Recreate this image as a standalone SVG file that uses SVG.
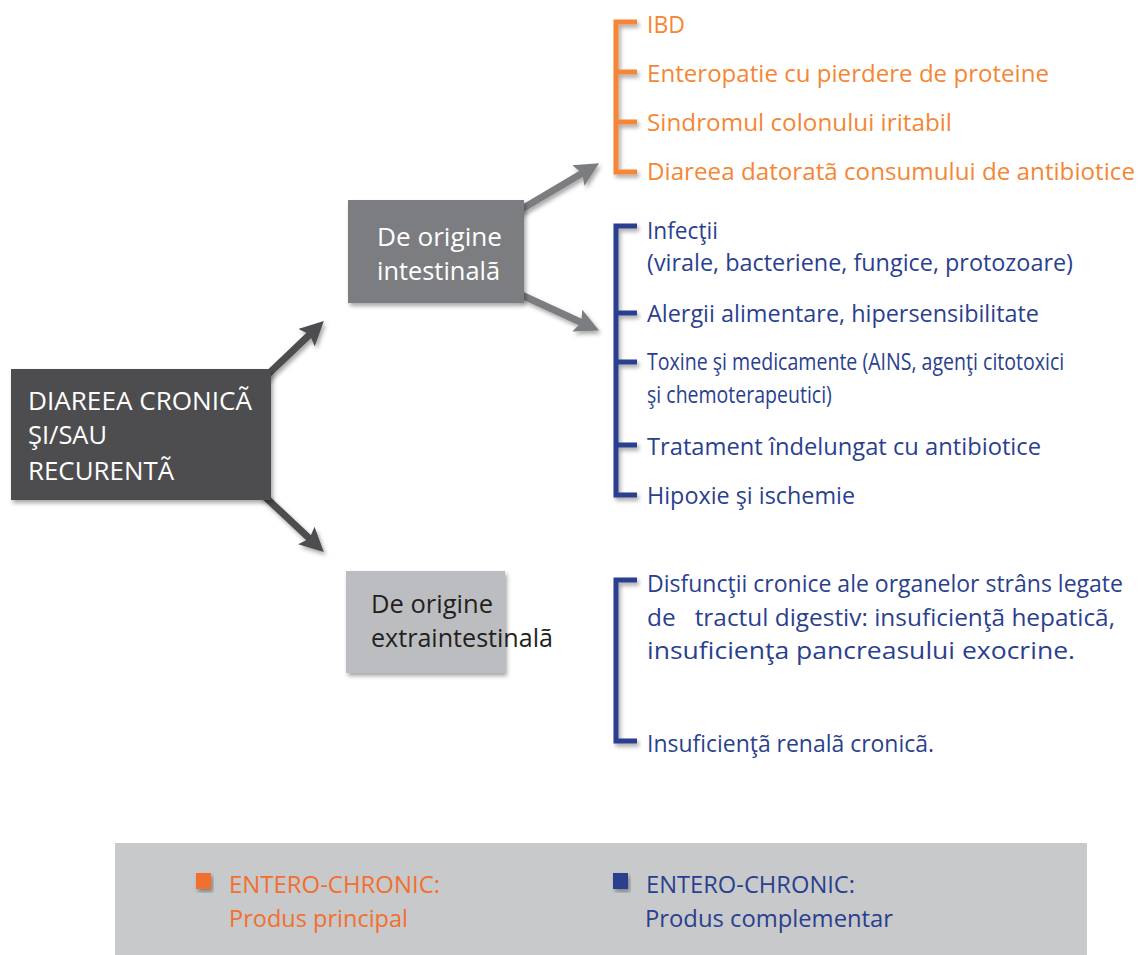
<svg xmlns="http://www.w3.org/2000/svg" width="1138" height="955" viewBox="0 0 1138 955">
<style>
text{font-family:"Open Sans","Noto Sans","Liberation Sans",sans-serif;}
.or{fill:#f58634;font-size:23.5px;}
.bl{fill:#2b3f8f;font-size:23.5px;}
.wh{fill:#ffffff;font-size:25px;}
.dk{fill:#231f20;font-size:25px;}
.lo{fill:#f26f2f;font-size:23px;}
.lb{fill:#2b3f8f;font-size:23px;}
.bro{fill:none;stroke:#f58634;stroke-width:5;}
.brb{fill:none;stroke:#2b3f8f;stroke-width:5;}
.a1{stroke:#4d4d4f;stroke-width:7;fill:none;}
.a2{stroke:#7c7d80;stroke-width:7;fill:none;}
</style>
<defs>
<filter id="sh" x="-10%" y="-10%" width="130%" height="130%">
<feDropShadow dx="2" dy="3" stdDeviation="2" flood-color="#000" flood-opacity="0.35"/>
</filter>
<marker id="h1" markerUnits="userSpaceOnUse" markerWidth="24" markerHeight="24" viewBox="0 0 22 22" refX="8" refY="11" orient="auto">
<path d="M0,0 L22,11 L0,22 L4,11 z" fill="#4d4d4f"/>
</marker>
<marker id="h2" markerUnits="userSpaceOnUse" markerWidth="24" markerHeight="24" viewBox="0 0 22 22" refX="8" refY="11" orient="auto">
<path d="M0,0 L22,11 L0,22 L4,11 z" fill="#7c7d80"/>
</marker>
</defs>
<rect width="1138" height="955" fill="#ffffff"/>

<g id="connectors" filter="url(#sh)">
<line class="a1" x1="262" y1="380" x2="312.8" y2="331.6" marker-end="url(#h1)"/>
<line class="a1" x1="262" y1="494" x2="312.7" y2="541.5" marker-end="url(#h1)"/>
<line class="a2" x1="515" y1="213" x2="585.9" y2="171.1" marker-end="url(#h2)"/>
<line class="a2" x1="515" y1="292" x2="585.2" y2="324.2" marker-end="url(#h2)"/>
</g>

<g id="node-main">
<rect x="11" y="369" width="260" height="131" fill="#4d4d4f" filter="url(#sh)"/>
<text class="wh" font-size="26.5" x="28" y="410" textLength="224" lengthAdjust="spacingAndGlyphs">DIAREEA CRONICÃ</text>
<text class="wh" font-size="26.5" x="28" y="444" textLength="79" lengthAdjust="spacingAndGlyphs">ŞI/SAU</text>
<text class="wh" font-size="26.5" x="28" y="480" textLength="146" lengthAdjust="spacingAndGlyphs">RECURENTÃ</text>
</g>

<g id="node-intestinal">
<rect x="348" y="200" width="176" height="103" fill="#7c7d80" filter="url(#sh)"/>
<text class="wh" x="377" y="246" textLength="125" lengthAdjust="spacingAndGlyphs">De origine</text>
<text class="wh" x="377" y="280" textLength="123" lengthAdjust="spacingAndGlyphs">intestinalã</text>
</g>

<g id="node-extraintestinal">
<rect x="346" y="571" width="159" height="102" fill="#bcbdc0" filter="url(#sh)"/>
<text class="dk" x="371" y="613" textLength="122" lengthAdjust="spacingAndGlyphs">De origine</text>
<text class="dk" x="371" y="647" textLength="182" lengthAdjust="spacingAndGlyphs">extraintestinalã</text>
</g>

<g id="list-principal">
<path class="bro" filter="url(#sh)" d="M637,22 H616 V172 H637 M616,72 H637 M616,122 H637"/>
<text class="or" x="647" y="33" textLength="38" lengthAdjust="spacingAndGlyphs">IBD</text>
<text class="or" x="647" y="82" textLength="402" lengthAdjust="spacingAndGlyphs">Enteropatie cu pierdere de proteine</text>
<text class="or" x="647" y="131" textLength="305" lengthAdjust="spacingAndGlyphs">Sindromul colonului iritabil</text>
<text class="or" x="647" y="180" textLength="488" lengthAdjust="spacingAndGlyphs">Diareea datoratã consumului de antibiotice</text>
</g>

<g id="list-intestinal">
<path class="brb" filter="url(#sh)" d="M637,226 H616 V495 H637 M616,313 H637 M616,362 H637 M616,445 H637"/>
<text class="bl" x="647" y="239" textLength="71" lengthAdjust="spacingAndGlyphs">Infecţii</text>
<text class="bl" x="647" y="271" textLength="426" lengthAdjust="spacingAndGlyphs">(virale, bacteriene, fungice, protozoare)</text>
<text class="bl" x="647" y="322" textLength="392" lengthAdjust="spacingAndGlyphs">Alergii alimentare, hipersensibilitate</text>
<text class="bl" font-size="22.5" transform="translate(647,370) scale(0.78,1)" x="0" y="0" textLength="535" lengthAdjust="spacingAndGlyphs">Toxine şi medicamente (AINS, agenţi citotoxici</text>
<text class="bl" font-size="22.5" transform="translate(647,403) scale(0.78,1)" x="0" y="0" textLength="237" lengthAdjust="spacingAndGlyphs">şi chemoterapeutici)</text>
<text class="bl" x="647" y="455" textLength="394" lengthAdjust="spacingAndGlyphs">Tratament îndelungat cu antibiotice</text>
<text class="bl" x="647" y="504" textLength="208" lengthAdjust="spacingAndGlyphs">Hipoxie şi ischemie</text>
</g>

<g id="list-extraintestinal">
<path class="brb" filter="url(#sh)" d="M637,580 H616 V741 H637"/>
<text class="bl" x="647" y="592" textLength="476" lengthAdjust="spacingAndGlyphs">Disfuncţii cronice ale organelor strâns legate</text>
<text class="bl" x="647" y="626" textLength="468" lengthAdjust="spacingAndGlyphs" xml:space="preserve">de   tractul digestiv: insuficienţã hepaticã,</text>
<text class="bl" x="647" y="659" textLength="428" lengthAdjust="spacingAndGlyphs">insuficienţa pancreasului exocrine.</text>
<text class="bl" x="647" y="752" textLength="287" lengthAdjust="spacingAndGlyphs">Insuficienţã renalã cronicã.</text>
</g>

<g id="legend">
<rect x="115" y="843" width="972" height="112" fill="#c8c9cb"/>
<rect x="196" y="873" width="15" height="16" fill="#f26f2f" filter="url(#sh)"/>
<text class="lo" x="229" y="893" textLength="211" lengthAdjust="spacingAndGlyphs">ENTERO-CHRONIC:</text>
<text class="lo" x="229" y="927" textLength="179" lengthAdjust="spacingAndGlyphs">Produs principal</text>
<rect x="613" y="873" width="15" height="16" fill="#2b3f8f" filter="url(#sh)"/>
<text class="lb" x="646" y="893" textLength="209" lengthAdjust="spacingAndGlyphs">ENTERO-CHRONIC:</text>
<text class="lb" x="645" y="927" textLength="248" lengthAdjust="spacingAndGlyphs">Produs complementar</text>
</g>
</svg>
